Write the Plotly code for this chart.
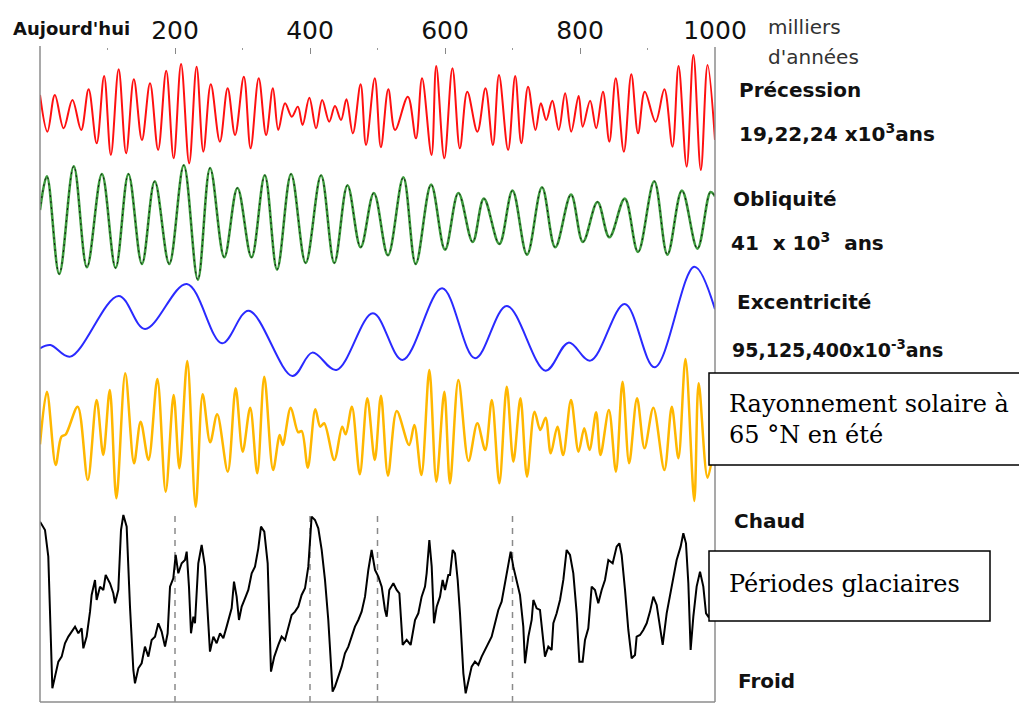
import plotly.graph_objects as go

# ---------------- DATA (ages in thousands of years, amplitudes in arbitrary units) ----------------
prec_age = [0, 11, 22, 35, 48, 61, 72, 84, 95, 105, 116.5, 127.6, 139, 151, 163, 175, 187, 198, 209, 221,
            232, 242, 253, 266.5, 278, 289, 302, 312, 324, 335, 345, 353, 363, 373, 382, 389, 399, 409, 418,
            428.5, 437, 446, 454, 463.5, 475, 483, 496, 505, 516, 526, 545, 557, 566, 580, 587, 599, 611, 622,
            633, 648, 660, 671, 680, 693.5, 704, 713, 723, 734, 742, 750, 759, 768.5, 778, 787, 798, 804, 815,
            824, 834, 843.5, 853, 865, 876, 886, 896, 912, 925, 937, 946, 958, 968, 979, 989, 1000]
prec_val = [0.55, -0.55, 0.55, -0.45, 0.40, -0.50, 0.72, -0.90, 1.12, -1.25, 1.32, -1.20, 1.02, -0.80, 0.90,
            -1.10, 1.28, -1.35, 1.48, -1.50, 1.40, -1.15, 0.87, -0.85, 0.75, -0.65, 1.10, -1.05, 1.05, -0.65,
            0.75, -0.50, 0.30, -0.10, 0.20, -0.35, 0.47, -0.45, 0.40, -0.25, 0.22, -0.20, 0.42, -0.60, 0.87,
            -0.95, 1.05, -1.02, 0.72, -0.50, 0.50, -0.75, 1.05, -1.25, 1.42, -1.35, 1.35, -1.05, 0.65, -0.55,
            0.75, -0.95, 1.15, -1.10, 1.12, -0.90, 0.80, -0.50, 0.30, -0.20, 0.38, -0.50, 0.60, -0.55, 0.52,
            -0.40, 0.38, -0.45, 0.65, -0.85, 1.05, -1.15, 1.17, -0.60, 0.65, -0.25, 0.72, -1.00, 1.42, -1.60,
            1.75, -1.70, 1.45, -0.80]

obl_age = [0, 10.2, 28.5, 50, 69.5, 91.7, 112, 131, 151, 170, 191.5, 213, 233.8, 252, 273, 292.5, 313.4, 333,
           351.2, 372, 393.6, 416.4, 436, 455.5, 475, 494.6, 515.5, 538.3, 556.6, 579.4, 600, 619.8, 641, 657.6,
           680.5, 700, 721.5, 743.7, 763.3, 786.7, 804.3, 825.9, 843.5, 866.3, 886, 910, 929.5, 951, 974,
           993.4, 1000]
obl_val = [0.34, 1.35, -1.58, 1.65, -1.38, 1.42, -1.40, 1.42, -1.28, 1.20, -1.28, 1.68, -1.75, 1.60, -1.08,
           1.00, -1.08, 1.38, -1.45, 1.42, -1.25, 1.38, -1.25, 1.08, -0.78, 0.85, -1.02, 1.32, -1.28, 1.10,
           -0.85, 0.85, -0.62, 0.68, -0.68, 0.92, -1.00, 1.02, -0.78, 0.80, -0.62, 0.58, -0.48, 0.68, -0.92,
           1.20, -1.00, 0.92, -0.82, 0.88, 0.75]

exc_age = [0, 15.4, 44.8, 116.5, 155.6, 217.5, 269.7, 309, 374, 403.4, 439.2, 493.3, 537, 595.7, 644.6,
           691.5, 749, 783, 815.4, 866.3, 910.6, 969.3, 1000]
exc_val = [-0.75, -0.65, -1.00, 0.82, -0.17, 1.18, -0.60, 0.38, -1.58, -0.88, -1.40, 0.30, -1.10, 1.05,
           -1.05, 0.52, -1.42, -0.58, -1.12, 0.58, -1.32, 1.70, 0.42]

ins_age = [0, 10.2, 23.2, 31.7, 38.2, 55.8, 70.8, 83.9, 93.7, 103.4, 113.2, 126.3, 139.3, 149.1, 160.8, 173.9,
           186.2, 198, 206.5, 218.2, 230.6, 241, 252.1, 262.5, 278.2, 289.9, 300.3, 311.4, 321.9, 332.3, 345.3,
           355.1, 359.7, 371.4, 382.5, 387.7, 396.8, 407.9, 415.1, 421, 436, 447.7, 452.9, 462.1, 473.8, 484.9,
           496, 505.1, 515.5, 528.5, 546.8, 554.6, 565.1, 576.8, 587.2, 599, 607.4, 619.8, 634.8, 647.9, 659.6,
           669.4, 680.5, 691.5, 701.3, 711.8, 721.5, 732.6, 741.1, 749, 756.7, 766.5, 775, 786.7, 797.8, 806.3,
           814.1, 823.9, 830.4, 842.8, 853.2, 863, 872.8, 884.5, 895.6, 908.7, 925, 936, 945.8, 956.3, 969.3,
           975.8, 988.9, 1000]
ins_val = [-0.33, 1.25, -0.95, -0.10, -0.03, 0.80, -1.40, 1.00, -0.65, 1.30, -1.95, 1.80, -0.90, 0.35, -0.80,
           1.63, -1.75, 1.15, -1.05, 2.17, -2.20, 1.17, -0.27, 0.57, -1.15, 1.35, -0.55, 0.77, -1.20, 1.70,
           -1.10, -0.05, -0.35, 0.77, 0.03, 0.07, -1.03, 0.72, 0.20, 0.30, -0.80, 0.20, -0.03, 0.80, -1.23,
           1.05, -0.80, 1.13, -1.27, 0.67, -0.35, 0.25, -1.25, 1.90, -1.45, 1.25, -1.50, 1.60, -0.83, 0.30,
           -0.50, 1.00, -1.50, 1.40, -0.85, 1.05, -1.30, 0.65, 0.10, 0.47, -0.60, 0.20, -0.65, 1.00, -0.55,
           0.15, -0.50, 0.63, -0.65, 0.70, -1.15, 1.55, -0.90, 1.05, -0.45, 0.77, -1.10, 0.80, -0.75, 2.23,
           -2.03, 1.50, -1.33, -0.20]

glac_age = [0, 7.4, 12.3, 18.3, 22.2, 27.2, 32.1, 37.0, 42.0, 46.9, 51.9, 56.8, 61.7, 64.2, 69.1, 74.1, 76.5,
            81.5, 83.9, 88.9, 93.8, 97.3, 103.7, 108.6, 111.1, 116.0, 120.0, 123.5, 128.4, 133.3, 138.3, 140.7,
            145.7, 150.6, 155.5, 160.5, 165.4, 170.4, 175.3, 180.2, 185.2, 189.1, 192.6, 197.5, 201.0, 204.9,
            209.9, 214.8, 217.3, 220.7, 223.7, 227.2, 229.6, 234.5, 239.5, 244.4, 249.4, 251.8, 256.8, 261.7,
            266.7, 271.6, 276.5, 283.9, 287.4, 291.3, 294.8, 298.8, 303.7, 308.6, 313.6, 318.5, 323.4, 327.4,
            332.3, 337.3, 342.2, 347.1, 353.1, 358.0, 363.0, 367.9, 372.8, 377.8, 382.7, 387.6, 392.6, 397.5,
            402.4, 407.4, 412.3, 417.3, 422.2, 427.1, 431.1, 433.5, 437.0, 441.9, 446.9, 451.8, 456.8, 461.7,
            466.6, 471.6, 476.5, 481.5, 486.4, 491.3, 496.3, 501.2, 506.2, 511.1,
            513.6, 517.5, 523.5, 528.4, 532.4, 537.3, 543.2, 549.1, 555.6, 560.5, 565.4, 570.4, 572.8, 576.8,
            580.3, 583.7, 587.7, 592.6, 596.5, 600.0, 604.9, 607.4, 611.4, 614.8, 618.8, 622.2, 627.2, 630.6,
            634.6, 639.5, 644.4, 649.4, 654.3, 659.3, 664.2, 669.1, 674.1, 679.0, 683.9, 688.9, 693.8, 697.3,
            701.2, 706.2, 711.1, 716.0, 718.5, 723.5, 728.4, 730.9, 735.8, 740.7, 744.7, 748.1, 753.1, 758.0,
            760.5, 765.4, 770.4, 775.3, 780.2, 785.2, 790.1, 795.1, 799.0, 803.9, 807.4, 812.3, 817.3, 822.2,
            827.1, 832.1, 837.0, 842.0, 848.4, 854.3, 858.3, 861.7, 866.7, 871.6, 876.5, 881.5, 883.9, 888.9,
            893.8, 898.8, 903.7, 908.6, 913.6, 918.5, 922.5, 928.4, 933.3, 938.3, 943.2, 949.1, 953.1, 957.0,
            960.5, 963.9, 967.9, 972.8, 977.8, 982.7, 986.7, 990.1, 1000]
glac_val = [2.75, 2.50, 1.70, -2.25, -1.90, -1.45, -1.30, -0.90, -0.70, -0.55, -0.40, -0.60, -0.45, -1.05,
            -0.70, 0.05, 0.55, 1.00, 0.40, 0.80, 0.70, 1.15, 0.90, 0.60, 0.30, 0.70, 2.50, 2.95, 2.60, 0.20,
            -1.70, -2.10, -1.65, -1.50, -1.00, -1.30, -0.80, -0.70, -0.30, -0.55, -1.00, -0.60, 0.80, 1.05,
            1.75, 1.20, 1.50, 1.60, 1.85, 0.80, -0.60, -0.10, -0.30, 1.50, 2.05, 1.40, -0.30, -1.15, -0.70,
            -0.90, -0.60, -0.75, -0.40, 0.15, 0.95, 0.50, -0.20, 0.20, 0.45, 0.70, 1.20, 1.40, 1.95, 2.60,
            2.45, 1.50, -1.75, -1.30, -0.95, -0.70, -0.80, -0.40, -0.05, 0.05, 0.20, 0.55, 0.75, 1.40, 2.90,
            2.80, 2.55, 1.90, 1.00, -0.20, -1.60, -2.35, -2.20, -1.90, -1.60, -1.20, -1.00, -0.70, -0.40,
            -0.20, 0.05, 0.50, 1.30, 1.90, 1.30, 1.10, 0.80, 0.10,
            -0.10, 0.70, 0.90, 0.70, 0.60, -0.95, -0.80, -0.95, -0.20, 0.00, 0.50, 0.80, 1.20, 2.20,
            1.40, -0.30, 0.20, 0.50, 1.00, 0.70, 1.15, 1.15, 1.90, 1.80, 1.00, 0.00, -1.80, -2.40,
            -2.00, -1.60, -1.45, -1.55, -1.30, -1.10, -0.90, -0.70, -0.30, 0.10, 0.35, 0.90, 1.40, 1.85,
            1.40, 1.00, 0.55, -0.40, -1.50, -0.70, -0.20, 0.40, 0.15, 0.10, -0.70, -1.30, -1.00, -1.10,
            -0.30, 0.00, 0.40, 1.00, 1.90, 1.75, 1.20, 0.00, -1.45, -1.45, -0.80, -0.45, 0.80, 0.70,
            0.30, 0.70, 1.00, 1.60, 1.50, 2.00, 2.10, 1.75, 0.70, -0.50, -1.35, -1.25, -0.70, -0.65,
            -0.50, -0.30, 0.05, 0.50, 0.25, -0.50, -0.95, 0.00, 0.50, 1.00, 1.60, 2.00, 2.40, 2.10,
            0.90, -1.10, -0.10, 0.80, 1.25, 0.80, 0.00, -0.10, 0.10]

tick_vals = [200, 400, 600, 800, 1000]
tick_text = ["200", "400", "600", "800", "1000"]
dashed_ages = [200, 400, 500, 700]

# ---------------- LAYOUT (pixel geometry of the page) ----------------
OFF = 8                                 # default body margin of the html page
W, H = 1027 - OFF, 704 - OFF            # figure size so that it fits the window
L, R, T, B = 40, 715, 48, 702           # plot area in page pixels
UNIT = 33.33                            # pixels per amplitude unit
centers = [113.3, 221.3, 323.3, 433.3, 613.3]


def yr(c):
    return [(c - B) / UNIT, (c - T) / UNIT]


def px(x):
    return (x - L) / (R - L)


def py(y):
    return (B - y) / (B - T)


fig = go.Figure()
fig.add_trace(go.Scatter(x=prec_age, y=prec_val, mode="lines", yaxis="y",
                         line=dict(color="#ff1010", width=2, shape="spline", smoothing=1.0)))
fig.add_trace(go.Scatter(x=obl_age, y=obl_val, mode="lines", yaxis="y2",
                         line=dict(color="#3c9a3c", width=2.6, shape="spline", smoothing=1.0)))
fig.add_trace(go.Scatter(x=obl_age, y=obl_val, mode="lines", yaxis="y2",
                         line=dict(color="#111111", width=1, dash="2px,4px", shape="spline", smoothing=1.0)))
fig.add_trace(go.Scatter(x=exc_age, y=exc_val, mode="lines", yaxis="y3",
                         line=dict(color="#2a2aff", width=2, shape="spline", smoothing=1.0)))
fig.add_trace(go.Scatter(x=ins_age, y=ins_val, mode="lines", yaxis="y4",
                         line=dict(color="#ffb700", width=2.5, shape="spline", smoothing=0.9)))
fig.add_trace(go.Scatter(x=glac_age, y=glac_val, mode="lines", yaxis="y5",
                         line=dict(color="#000000", width=2)))

hidden = dict(visible=False, fixedrange=True)
fig.update_layout(
    width=W, height=H,
    margin=dict(l=L - OFF, r=W - (R - OFF), t=T - OFF, b=H - (B - OFF), pad=0),
    paper_bgcolor="white", plot_bgcolor="white",
    showlegend=False,
    xaxis=dict(range=[0, 1000], side="top", tickvals=tick_vals, ticktext=tick_text,
               ticks="inside", ticklen=6, tickcolor="#888888", tickwidth=1,
               minor=dict(dtick=100, tick0=0, ticks="inside", ticklen=2, tickcolor="#999999"),
               showline=False, showgrid=False, zeroline=False,
               tickfont=dict(family="DejaVu Sans", size=25, color="#111111"),
               ticklabelstandoff=3),
    yaxis=dict(range=yr(centers[0]), **hidden),
    yaxis2=dict(range=yr(centers[1]), overlaying="y", **hidden),
    yaxis3=dict(range=yr(centers[2]), overlaying="y", **hidden),
    yaxis4=dict(range=yr(centers[3]), overlaying="y", **hidden),
    yaxis5=dict(range=yr(centers[4]), overlaying="y", **hidden),
)

shapes = []
for a in dashed_ages:
    shapes.append(dict(type="line", xref="x", yref="paper", x0=a, x1=a, y0=py(B), y1=py(510),
                       line=dict(color="#8a8a8a", width=1.5, dash="6px,6px"), layer="below"))
frame = dict(color="#8c8c8c", width=1.5)
shapes.append(dict(type="line", xref="paper", yref="paper", x0=px(L), x1=px(L), y0=py(B), y1=py(46), line=frame))
shapes.append(dict(type="line", xref="paper", yref="paper", x0=px(R), x1=px(R), y0=py(B), y1=py(47), line=frame))
shapes.append(dict(type="line", xref="paper", yref="paper", x0=px(L), x1=px(R), y0=py(B), y1=py(B), line=frame))
shapes.append(dict(type="rect", xref="paper", yref="paper", x0=px(709), x1=px(1045), y0=py(465), y1=py(373),
                   fillcolor="white", line=dict(color="black", width=1.5), layer="above"))
shapes.append(dict(type="rect", xref="paper", yref="paper", x0=px(709), x1=px(990), y0=py(621), y1=py(551),
                   fillcolor="white", line=dict(color="black", width=1.5), layer="above"))
fig.update_layout(shapes=shapes)


def label(text, x, y, size=20, bold=True, color="#111111", family="DejaVu Sans"):
    fig.add_annotation(text=text, xref="paper", yref="paper", x=px(x), y=py(y),
                       xanchor="left", yanchor="middle", showarrow=False, align="left",
                       font=dict(family=family, size=size, color=color,
                                 weight="bold" if bold else "normal"))


label("Aujourd'hui", 11, 29, size=18)
label("milliers", 766, 27, size=20, bold=False, color="#333333")
label("d'années", 766, 57, size=20, bold=False, color="#333333")
label("Précession", 737, 90)
label("19,22,24 x10<sup>3</sup>ans", 737, 133)
label("Obliquité", 731, 199)
label("41  x 10<sup>3</sup>  ans", 729, 242)
label("Excentricité", 735, 302)
label("95,125,400x10<sup>-3</sup>ans", 730, 349, size=19)
label("Chaud", 732, 521)
label("Froid", 736, 681)
label("Rayonnement solaire à<br>65 °N en été", 727, 419, size=24, bold=False, color="#000000",
      family="DejaVu Serif")
label("Périodes glaciaires", 727, 584, size=24, bold=False, color="#000000", family="DejaVu Serif")

fig.write_html("out.html")
